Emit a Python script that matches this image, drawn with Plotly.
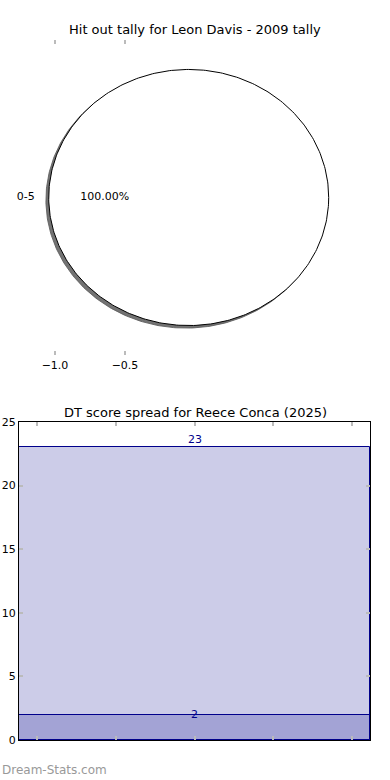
import numpy as np
import plotly.graph_objects as go

# ---- data ----
pie_labels = ["0-5"]
pie_values = [1]
pie_title = "Hit out tally for Leon Davis - 2009 tally"
pie_xticks = [-1.0, -0.5]
pie_xticktext = ["\u22121.0", "\u22120.5"]

bar_values = [23, 2]
bar_title = "DT score spread for Reece Conca (2025)"
bar_yticks = [0, 5, 10, 15, 20, 25]
bar_xticks = [-0.4, -0.2, 0.0, 0.2, 0.4]

# ---- style / layout parameters ----
FONT = "DejaVu Sans"
PIE_CX = -0.045
NAVY = "#00008b"
BAR_FILL = "rgba(0,0,139,0.2)"
X_SPAN = [-0.447, 0.447]

fig = go.Figure()

# pie drawn as parametric ellipse from cumulative fractions
total = float(sum(pie_values))
fracs = np.array(pie_values) / total
starts = np.concatenate([[0.0], np.cumsum(fracs)[:-1]])
for i, (s, f) in enumerate(zip(starts, fracs)):
    th = np.linspace(2 * np.pi * s, 2 * np.pi * (s + f), 361)
    if f < 1:
        xs = np.concatenate([[PIE_CX], PIE_CX + np.cos(th), [PIE_CX]])
        ys = np.concatenate([[0], np.sin(th), [0]])
    else:
        xs = PIE_CX + np.cos(th)
        ys = np.sin(th)
    # shadow
    fig.add_trace(go.Scatter(x=xs - 0.02, y=ys - 0.02, mode="lines", fill="toself",
                             fillcolor="rgba(90,90,90,0.85)", line=dict(color="rgba(90,90,90,0.85)", width=1),
                             xaxis="x", yaxis="y", hoverinfo="skip", showlegend=False))
    fig.add_trace(go.Scatter(x=xs, y=ys, mode="lines", fill="toself", fillcolor="white",
                             line=dict(color="black", width=1),
                             xaxis="x", yaxis="y", hoverinfo="skip", showlegend=False))
    mid = 2 * np.pi * (s + f / 2)
    fig.add_trace(go.Scatter(x=[PIE_CX + 1.1 * np.cos(mid)], y=[1.1 * np.sin(mid)], mode="text",
                             text=[pie_labels[i]], textposition="middle left",
                             textfont=dict(family=FONT, size=11, color="black"),
                             xaxis="x", yaxis="y", hoverinfo="skip", showlegend=False))
    fig.add_trace(go.Scatter(x=[PIE_CX + 0.6 * np.cos(mid)], y=[0.6 * np.sin(mid)], mode="text",
                             text=["%.2f%%" % (f * 100)], textposition="middle center",
                             textfont=dict(family=FONT, size=11, color="black"),
                             xaxis="x", yaxis="y", hoverinfo="skip", showlegend=False))

# bars (overlaid, full width)
for v in bar_values:
    fig.add_trace(go.Bar(x=[0], y=[v], width=[X_SPAN[1] - X_SPAN[0]],
                         marker=dict(color=BAR_FILL, line=dict(color=NAVY, width=1)),
                         xaxis="x2", yaxis="y2", hoverinfo="skip", showlegend=False))

annotations = []
for i, v in enumerate(bar_values):
    annotations.append(dict(x=0, y=v, xref="x2", yref="y2", text=str(v), showarrow=False,
                            yanchor="middle", yshift=8 if i == 0 else 0,
                            font=dict(family=FONT, size=11, color=NAVY)))
annotations.append(dict(x=195 / 390, y=(780 - 30) / 780, xref="paper", yref="paper", text=pie_title,
                        yanchor="middle", showarrow=False, font=dict(family=FONT, size=13, color="black")))
annotations.append(dict(x=195 / 390, y=(780 - 412) / 780, xref="paper", yref="paper", text=bar_title,
                        yanchor="middle", showarrow=False, font=dict(family=FONT, size=13, color="black")))
annotations.append(dict(x=0, y=(780 - 770) / 780, xref="paper", yref="paper", text="Dream-Stats.com",
                        xanchor="left", yanchor="middle", showarrow=False,
                        font=dict(family=FONT, size=12, color="#999999")))

fig.update_layout(
    width=390, height=780, margin=dict(l=0, r=0, t=0, b=0, pad=0, autoexpand=False),
    paper_bgcolor="white", plot_bgcolor="white",
    barmode="overlay", bargap=0, showlegend=False,
    font=dict(family=FONT, size=11, color="black"),
    annotations=annotations,
    xaxis=dict(domain=[0, 1], range=[-1 - 55 / 140, -1 - 55 / 140 + 390 / 140], automargin=False,
               tickvals=pie_xticks, ticktext=pie_xticktext, ticks="inside", ticklen=4, tickwidth=1.5,
               tickcolor="#bbbbbb", showline=True, linecolor="rgba(0,0,0,0)", mirror="ticks",
               showgrid=False, zeroline=False,
               tickfont=dict(family=FONT, size=11)),
    yaxis=dict(domain=[(780 - 355) / 780, (780 - 40) / 780], range=[-1.23, 1.23], automargin=False,
               visible=False, showgrid=False, zeroline=False),
    xaxis2=dict(domain=[19 / 390, 370 / 390], range=X_SPAN, anchor="y2", automargin=False,
                tickvals=bar_xticks, showticklabels=False, ticks="inside", ticklen=4, tickwidth=1.5,
                tickcolor="#bbbbbb", showline=True, linecolor="black", linewidth=1, mirror="ticks",
                showgrid=False, zeroline=False),
    yaxis2=dict(domain=[(780 - 740) / 780, (780 - 422) / 780], range=[0, 25], anchor="x2",
                automargin=False,
                tickvals=bar_yticks, ticks="inside", ticklen=4, tickwidth=1.5, tickcolor="#bbbbbb",
                showline=True, linecolor="black", linewidth=1, mirror="ticks",
                showgrid=False, zeroline=False, tickfont=dict(family=FONT, size=11)),
)

fig.write_html("out.html", config={"displayModeBar": False},
               post_script="document.body.style.margin='0';document.body.style.overflow='hidden';")
